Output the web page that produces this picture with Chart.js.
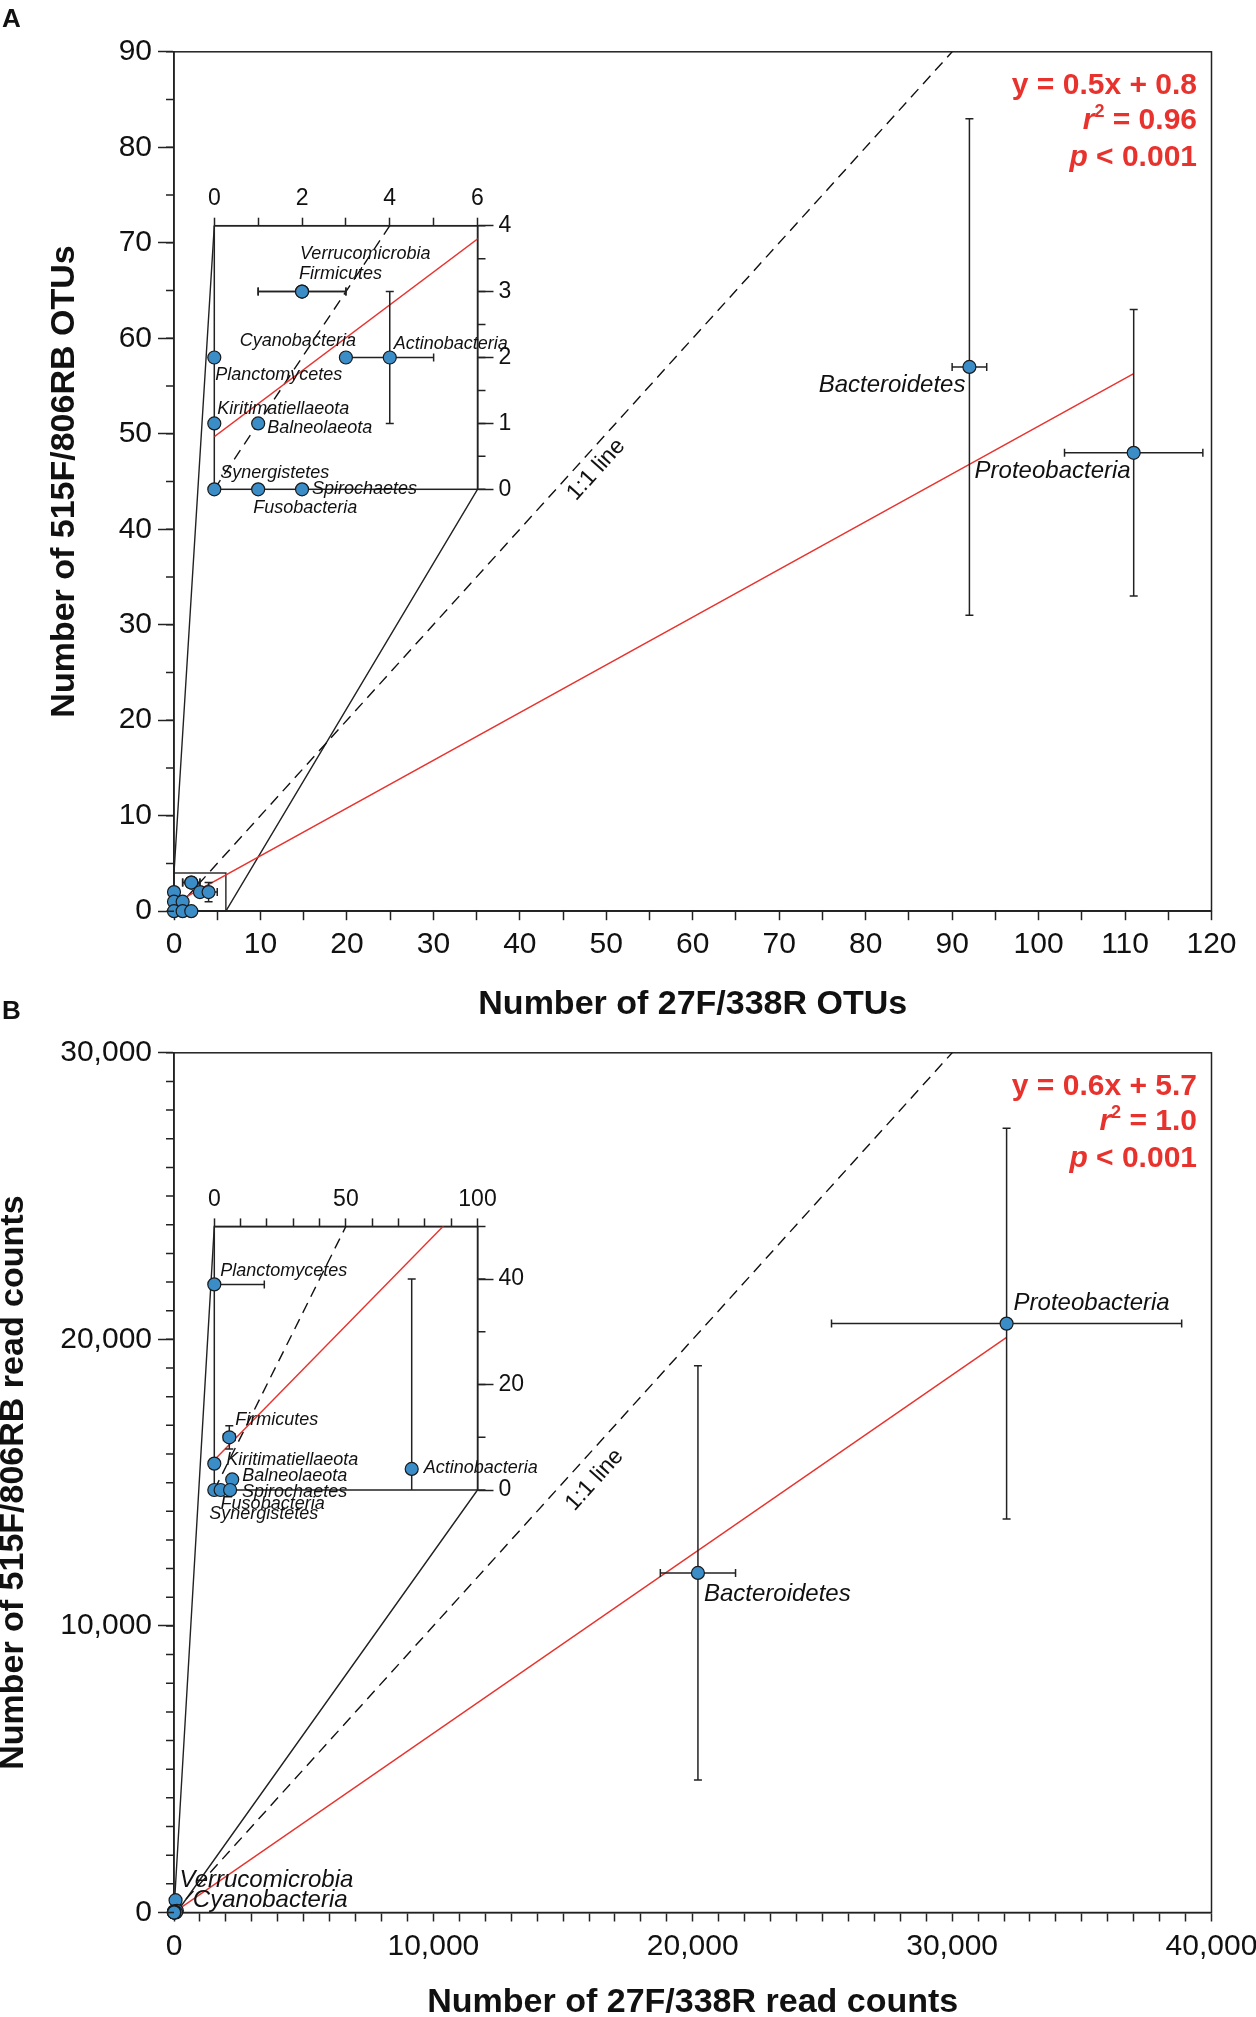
<!DOCTYPE html>
<html>
<head>
<meta charset="utf-8">
<script src="https://cdn.jsdelivr.net/npm/chart.js@4.4.1/dist/chart.umd.min.js"></script>
<style>
  html, body { margin: 0; padding: 0; background: #fff; }
  body { width: 1256px; height: 2017px; position: relative; overflow: hidden; font-family: 'Liberation Sans', Arial, sans-serif; }
  .panel { position: absolute; left: 0; width: 1256px; }
  .panel canvas { position: absolute; left: 0; top: 0; }
  .letter { position: absolute; left: 2px; font-weight: bold; font-size: 26px; line-height: 26px; color: #111; }
</style>
</head>
<body>
<div class="panel" style="top:0;height:1030px">
  <canvas id="mainA" width="1256" height="1030"></canvas>
  <canvas id="insetA" width="1256" height="1030"></canvas>
</div>
<div class="panel" style="top:995px;height:1022px">
  <canvas id="mainB" width="1256" height="1022"></canvas>
  <canvas id="insetB" width="1256" height="1022"></canvas>
</div>
<div class="letter" style="top:5px">A</div>
<div class="letter" style="top:997px">B</div>

<script>
// ---- data ----
const phyla = ['Verrucomicrobia', 'Firmicutes', 'Cyanobacteria', 'Actinobacteria', 'Planctomycetes',
  'Kiritimatiellaeota', 'Balneolaeota', 'Synergistetes', 'Fusobacteria', 'Spirochaetes',
  'Bacteroidetes', 'Proteobacteria'];

// panel A: OTU numbers
const otus27F     = [2, 2, 3, 4, 0, 0, 1, 0, 1, 2, 92, 111];
const otus515F    = [3, 3, 2, 2, 2, 1, 1, 0, 0, 0, 57, 48];
const otus27FErr  = [1, 1, 0, 1, 0, 0, 0, 0, 0, 0, 2, 8];
const otus515FErr = [0, 0, 0, 1, 0, 0, 0, 0, 0, 0, 26, 15];

// panel B: read counts
const reads27F     = [60, 5.7, 110, 75, 0, 0, 6.8, 0, 2.4, 6, 20200, 32100];
const reads515F    = [430, 10, 60, 4, 39, 5, 2, 0, 0, 0, 11850, 20550];
const reads27FErr  = [0, 2.2, 0, 0, 19, 0, 0, 0, 0, 0, 1450, 6750];
const reads515FErr = [0, 2.2, 0, 36, 0, 0, 0, 0, 0, 0, 7230, 6820];

// regression fits
const fitSlopeA = 0.5, fitInterceptA = 0.8;
const fitSlopeB = 0.625, fitInterceptB = 5.7;
const eqTextA = ['y = 0.5x + 0.8', '0.96', '0.001'];
const eqTextB = ['y = 0.6x + 5.7', '1.0', '0.001'];

// axes
const xRangeA = [0, 120], yRangeA = [0, 90];
const xRangeB = [0, 40000], yRangeB = [0, 30000];
const insetXRangeA = [0, 6], insetYRangeA = [0, 4];
const insetXRangeB = [0, 100], insetYRangeB = [0, 50];

// ---- styling / placement ----
const FAMILY = "'Liberation Sans', Arial, Helvetica, sans-serif";
const INK = '#222';
const RED = '#e8322d';
const BLUE = '#3b8dc8';
const PLOT_LEFT = 174, PLOT_RIGHT = 1211.5;
const INSET_LEFT = 214.3, INSET_RIGHT = 477.5;

Chart.defaults.font.family = FAMILY;
Chart.defaults.color = '#111';

// label offsets [dx, dy, align] relative to the point, in pixels
const mainLabelsA = {
  Bacteroidetes: [-4, 25, 'right'],
  Proteobacteria: [-3, 25, 'right']
};
const insetLabelsA = {
  Verrucomicrobia: [-2, -33, 'left'],
  Firmicutes: [-3, -12.5, 'left'],
  Cyanobacteria: [10, -12, 'right'],
  Actinobacteria: [4, -9, 'left'],
  Planctomycetes: [1, 22, 'left'],
  Kiritimatiellaeota: [3, -9, 'left'],
  Balneolaeota: [9, 10, 'left'],
  Synergistetes: [6, -11, 'left'],
  Spirochaetes: [10, 5, 'left'],
  Fusobacteria: [-5, 24, 'left']
};
const mainLabelsB = {
  Proteobacteria: [7, -14, 'left'],
  Bacteroidetes: [6, 28, 'left'],
  Verrucomicrobia: [4, -13.5, 'left'],
  Cyanobacteria: [16, -3.5, 'left']
};
const insetLabelsB = {
  Planctomycetes: [6, -8, 'left'],
  Firmicutes: [6, -12, 'left'],
  Kiritimatiellaeota: [12, 1, 'left'],
  Balneolaeota: [10, 2, 'left'],
  Spirochaetes: [12, 7, 'left'],
  Fusobacteria: [0, 19, 'left'],
  Synergistetes: [-5, 29, 'left'],
  Actinobacteria: [12, 4, 'left']
};

const extras = {};

function fmt(v) {
  return Number(v).toLocaleString('en-US');
}
function isMultiple(v, step) {
  const r = Math.abs(v / step - Math.round(v / step));
  return r < 1e-6;
}

// ---- plugins ----
const frameBox = {
  id: 'frameBox',
  beforeDatasetsDraw(chart) {
    const a = chart.chartArea, ctx = chart.ctx;
    ctx.save();
    ctx.strokeStyle = INK;
    ctx.lineWidth = 1.5;
    ctx.strokeRect(a.left, a.top, a.right - a.left, a.bottom - a.top);
    ctx.restore();
  }
};

const minorTicks = {
  id: 'minorTicks',
  afterDraw(chart) {
    const ex = extras[chart.canvas.id];
    if (!ex || !ex.yMinor) return;
    const s = chart.scales.y, a = chart.chartArea, ctx = chart.ctx;
    const n = Math.round((s.max - s.min) / ex.yMinor);
    ctx.save();
    ctx.strokeStyle = INK;
    ctx.lineWidth = 1.5;
    ctx.beginPath();
    for (let i = 0; i <= n; i++) {
      const py = s.getPixelForValue(s.min + i * ex.yMinor);
      if (s.position === 'right') {
        ctx.moveTo(a.right, py); ctx.lineTo(a.right + 8, py);
      } else {
        ctx.moveTo(a.left - 8, py); ctx.lineTo(a.left, py);
      }
    }
    ctx.stroke();
    ctx.restore();
  }
};

const errorBars = {
  id: 'errorBars',
  beforeDatasetDraw(chart, args) {
    if (args.index !== 0) return;
    const ds = chart.data.datasets[0];
    const xs = chart.scales.x, ys = chart.scales.y;
    const a = chart.chartArea, ctx = chart.ctx;
    const cap = 4;
    ctx.save();
    ctx.beginPath();
    ctx.rect(a.left, a.top, a.right - a.left, a.bottom - a.top);
    ctx.clip();
    ctx.strokeStyle = INK;
    ctx.lineWidth = 1.5;
    ds.data.forEach((p, i) => {
      const px = xs.getPixelForValue(p.x), py = ys.getPixelForValue(p.y);
      const ex = ds.xErr[i], ey = ds.yErr[i];
      ctx.beginPath();
      if (ex) {
        const l = xs.getPixelForValue(p.x - ex), r = xs.getPixelForValue(p.x + ex);
        ctx.moveTo(l, py); ctx.lineTo(r, py);
        ctx.moveTo(l, py - cap); ctx.lineTo(l, py + cap);
        ctx.moveTo(r, py - cap); ctx.lineTo(r, py + cap);
      }
      if (ey) {
        const t = ys.getPixelForValue(p.y + ey), b = ys.getPixelForValue(p.y - ey);
        ctx.moveTo(px, t); ctx.lineTo(px, b);
        ctx.moveTo(px - cap, t); ctx.lineTo(px + cap, t);
        ctx.moveTo(px - cap, b); ctx.lineTo(px + cap, b);
      }
      ctx.stroke();
    });
    ctx.restore();
  }
};

const pointLabels = {
  id: 'pointLabels',
  afterDatasetsDraw(chart) {
    const ex = extras[chart.canvas.id];
    if (!ex || !ex.labels) return;
    const ds = chart.data.datasets[0];
    const xs = chart.scales.x, ys = chart.scales.y, ctx = chart.ctx;
    ctx.save();
    ctx.fillStyle = '#111';
    ctx.font = 'italic ' + ex.labelSize + 'px ' + FAMILY;
    ctx.textBaseline = 'alphabetic';
    ds.names.forEach((name, i) => {
      const pos = ex.labels[name];
      if (!pos) return;
      const p = ds.data[i];
      ctx.textAlign = pos[2] || 'left';
      ctx.fillText(name, xs.getPixelForValue(p.x) + pos[0], ys.getPixelForValue(p.y) + pos[1]);
    });
    ctx.restore();
  }
};

const zoomGuide = {
  id: 'zoomGuide',
  beforeDatasetsDraw(chart) {
    const ex = extras[chart.canvas.id];
    if (!ex || !ex.insetId) return;
    const inset = Chart.getChart(ex.insetId);
    if (!inset) return;
    const xs = chart.scales.x, ys = chart.scales.y, ctx = chart.ctx;
    const ia = inset.chartArea;
    const l = xs.getPixelForValue(inset.scales.x.min), r = xs.getPixelForValue(inset.scales.x.max);
    const t = ys.getPixelForValue(inset.scales.y.max), b = ys.getPixelForValue(inset.scales.y.min);
    ctx.save();
    ctx.strokeStyle = INK;
    ctx.lineWidth = 1.4;
    ctx.strokeRect(l, t, r - l, b - t);
    ctx.beginPath();
    ctx.moveTo(ia.left, ia.top); ctx.lineTo(l, t);
    ctx.moveTo(ia.right, ia.bottom); ctx.lineTo(r, b);
    ctx.stroke();
    ctx.restore();
  }
};

const annotations = {
  id: 'annotations',
  afterDraw(chart) {
    const ex = extras[chart.canvas.id];
    if (!ex || !ex.eq) return;
    const xs = chart.scales.x, ys = chart.scales.y, a = chart.chartArea, ctx = chart.ctx;
    ctx.save();

    // "1:1 line" label along the dashed line
    const v = ex.oneToOne[0], off = ex.oneToOne[1];
    const x0 = xs.getPixelForValue(0), y0 = ys.getPixelForValue(0);
    const x1 = xs.getPixelForValue(v), y1 = ys.getPixelForValue(v);
    const len = Math.hypot(x1 - x0, y1 - y0);
    const dx = (x1 - x0) / len, dy = (y1 - y0) / len;
    ctx.translate(x1 - dy * off, y1 + dx * off);
    ctx.rotate(Math.atan2(dy, dx));
    ctx.fillStyle = '#111';
    ctx.font = '23px ' + FAMILY;
    ctx.textAlign = 'center';
    ctx.textBaseline = 'middle';
    ctx.fillText('1:1 line', 0, 0);
    ctx.setTransform(1, 0, 0, 1, 0, 0);

    // regression statistics, right aligned
    const right = a.right - 14.5;
    const bold = 'bold 30px ' + FAMILY, boldIt = 'italic bold 30px ' + FAMILY, sup = 'bold 18px ' + FAMILY;
    const rows = [
      [[ex.eq[0], bold, 0]],
      [['r', boldIt, 0], ['2', sup, -12], [' = ' + ex.eq[1], bold, 0]],
      [['p', boldIt, 0], [' < ' + ex.eq[2], bold, 0]]
    ];
    const baselines = [41.8, 77.5, 114.2];
    ctx.fillStyle = RED;
    ctx.textAlign = 'left';
    ctx.textBaseline = 'alphabetic';
    rows.forEach((segs, k) => {
      let w = 0;
      segs.forEach(s => { ctx.font = s[1]; w += ctx.measureText(s[0]).width; });
      let x = right - w;
      segs.forEach(s => {
        ctx.font = s[1];
        ctx.fillText(s[0], x, a.top + baselines[k] + s[2]);
        x += ctx.measureText(s[0]).width;
      });
    });
    ctx.restore();
  }
};

// ---- chart builders ----
function datasets(names, xs, ys, xErr, yErr, slope, intercept, oneMax) {
  const pts = xs.map((x, i) => ({ x: x, y: ys[i] }));
  const fitEnd = Math.max(...xs);
  return [
    {
      data: pts, names: names, xErr: xErr, yErr: yErr,
      backgroundColor: BLUE, borderColor: '#1a1a1a', borderWidth: 1.2,
      pointRadius: 6.5, clip: 8
    },
    {
      data: [{ x: 0, y: intercept }, { x: fitEnd, y: intercept + slope * fitEnd }],
      showLine: true, pointRadius: 0, borderColor: RED, borderWidth: 1.4, fill: false
    },
    {
      data: [{ x: 0, y: 0 }, { x: oneMax, y: oneMax }],
      showLine: true, pointRadius: 0, borderColor: '#111', borderWidth: 1.4, borderDash: [11, 7], fill: false
    }
  ];
}

function baseOptions() {
  return {
    responsive: false, animation: false, devicePixelRatio: 1, events: [],
    plugins: { legend: { display: false }, tooltip: { enabled: false } }
  };
}

function tickGrid(len) {
  return { drawOnChartArea: false, drawTicks: true, tickLength: len, tickColor: INK, tickWidth: 1.5 };
}

// keep the plot areas where the figure has them, even if an end label overhangs
function fixHeight(h) {
  return s => { s.height = h; s.paddingLeft = 0; s.paddingRight = 0; };
}
function fixWidth(w) {
  return s => { s.width = w; s.paddingTop = 0; s.paddingBottom = 0; };
}

function mainChart(id, p) {
  const opts = baseOptions();
  opts.layout = { padding: { left: 0, top: p.top, right: 1256 - PLOT_RIGHT, bottom: 0 } };
  opts.scales = {
    x: {
      type: 'linear', position: 'bottom', min: p.xRange[0], max: p.xRange[1],
      afterFit: fixHeight(p.height - p.bottom),
      ticks: {
        stepSize: p.xMinor, autoSkip: false, maxRotation: 0, minRotation: 0, padding: 7,
        font: { size: 30 }, color: '#111',
        callback: v => (isMultiple(v, p.xMajor) ? fmt(v) : '')
      },
      grid: tickGrid(9),
      border: { color: INK, width: 1.5 },
      title: {
        display: true, text: p.xTitle, color: '#111',
        font: { size: 34, weight: 'bold', lineHeight: p.titleLH }, padding: { top: 0, bottom: p.xTitlePad }
      }
    },
    y: {
      type: 'linear', position: 'left', min: p.yRange[0], max: p.yRange[1],
      afterFit: fixWidth(PLOT_LEFT),
      ticks: {
        stepSize: p.yMajor, autoSkip: false, padding: 6, font: { size: 30 }, color: '#111',
        callback: v => fmt(v)
      },
      grid: tickGrid(16),
      border: { color: INK, width: 1.5 },
      title: {
        display: true, text: p.yTitle, color: '#111',
        font: { size: 34, weight: 'bold', lineHeight: p.titleLH }, padding: { top: p.yTitlePad, bottom: 0 }
      }
    }
  };
  return new Chart(document.getElementById(id), {
    type: 'scatter',
    data: { datasets: datasets(phyla, p.xs, p.ys, p.xErr, p.yErr, p.slope, p.intercept, p.xRange[1]) },
    options: opts,
    plugins: [frameBox, zoomGuide, errorBars, pointLabels, minorTicks, annotations]
  });
}

function insetChart(id, p) {
  const opts = baseOptions();
  opts.layout = {
    padding: { left: INSET_LEFT, top: p.insetTop - 50, right: 1256 - INSET_RIGHT - 50, bottom: p.height - p.insetBottom }
  };
  opts.scales = {
    x: {
      type: 'linear', position: 'top', min: p.ix[0], max: p.ix[1],
      afterFit: fixHeight(50),
      ticks: {
        stepSize: p.ixMinor, autoSkip: false, maxRotation: 0, minRotation: 0, padding: 5,
        font: { size: 23 }, color: '#111',
        callback: v => (isMultiple(v, p.ixMajor) ? fmt(v) : '')
      },
      grid: tickGrid(8),
      border: { color: INK, width: 1.5 }
    },
    y: {
      type: 'linear', position: 'right', min: p.iy[0], max: p.iy[1],
      afterFit: fixWidth(50),
      ticks: {
        stepSize: p.iyMajor, includeBounds: false, autoSkip: false, padding: 5,
        font: { size: 23 }, color: '#111',
        callback: v => fmt(v)
      },
      grid: tickGrid(16),
      border: { color: INK, width: 1.5 }
    }
  };
  return new Chart(document.getElementById(id), {
    type: 'scatter',
    data: { datasets: datasets(phyla, p.xs, p.ys, p.xErr, p.yErr, p.slope, p.intercept, p.ix[1]) },
    options: opts,
    plugins: [frameBox, errorBars, pointLabels, minorTicks]
  });
}

// ---- panel A ----
const panelA = {
  height: 1030, top: 51.8, bottom: 911.2, insetTop: 225.7, insetBottom: 489.3,
  xs: otus27F, ys: otus515F, xErr: otus27FErr, yErr: otus515FErr,
  slope: fitSlopeA, intercept: fitInterceptA,
  xRange: xRangeA, xMajor: 10, xMinor: 5, yRange: yRangeA, yMajor: 10,
  ix: insetXRangeA, ixMajor: 2, ixMinor: 1, iy: insetYRangeA, iyMajor: 1,
  xTitle: 'Number of 27F/338R OTUs', yTitle: 'Number of 515F/806RB OTUs',
  titleLH: 1.2, xTitlePad: 4.6, yTitlePad: 44
};
extras.insetA = { labels: insetLabelsA, labelSize: 18, yMinor: 0.5 };
extras.mainA = { labels: mainLabelsA, labelSize: 24, yMinor: 5, insetId: 'insetA', eq: eqTextA, oneToOne: [47.4, 16.7] };
insetChart('insetA', panelA);
mainChart('mainA', panelA);

// ---- panel B ----
const panelB = {
  height: 1022, top: 57.8, bottom: 917.5, insetTop: 231.4, insetBottom: 495,
  xs: reads27F, ys: reads515F, xErr: reads27FErr, yErr: reads515FErr,
  slope: fitSlopeB, intercept: fitInterceptB,
  xRange: xRangeB, xMajor: 10000, xMinor: 1000, yRange: yRangeB, yMajor: 10000,
  ix: insetXRangeB, ixMajor: 50, ixMinor: 10, iy: insetYRangeB, iyMajor: 20,
  xTitle: 'Number of 27F/338R read counts', yTitle: 'Number of 515F/806RB read counts',
  titleLH: 0.8, xTitlePad: 0.4, yTitlePad: 0
};
extras.insetB = { labels: insetLabelsB, labelSize: 18, yMinor: 10 };
extras.mainB = { labels: mainLabelsB, labelSize: 24, yMinor: 1000, insetId: 'insetB', eq: eqTextB, oneToOne: [15600, 21.5] };
insetChart('insetB', panelB);
mainChart('mainB', panelB);
</script>
</body>
</html>
